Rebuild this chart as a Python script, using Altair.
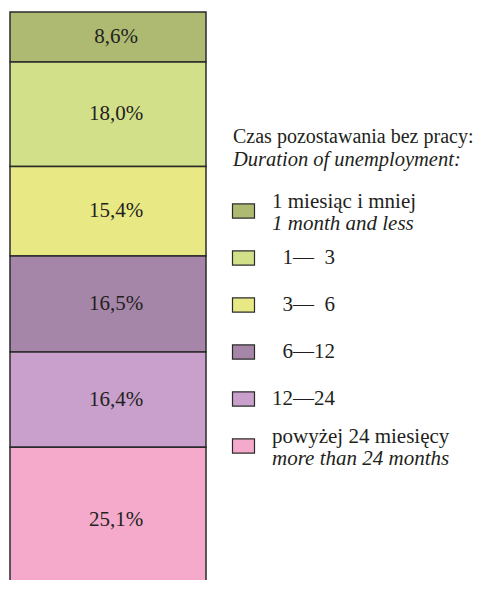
import altair as alt
import pandas as pd

categories = ["1 miesiąc i mniej", "1—3", "3—6", "6—12", "12—24", "powyżej 24 miesięcy"]
values = [8.6, 18.0, 15.4, 16.5, 16.4, 25.1]
value_labels = ["8,6%", "18,0%", "15,4%", "16,5%", "16,4%", "25,1%"]
legend_pl = ["1 miesiąc i mniej", "\u2060\u00a0\u00a01—\u00a0\u00a03", "\u2060\u00a0\u00a03—\u00a0\u00a06",
             "\u2060\u00a0\u00a06—12", "12—24", "powyżej 24 miesięcy"]
legend_en = ["1 month and less", "", "", "", "", "more than 24 months"]
colors = ["#AEBA72", "#D3E08A", "#E8E985", "#A585A8", "#C8A0CB", "#F5AACB"]
title_pl = "Czas pozostawania bez pracy:"
title_en = "Duration of unemployment:"

FONT = "Liberation Serif"
TXT = "#231f20"
STROKE = "#2b2b2b"

df = pd.DataFrame({"cat": categories, "value": values, "label": value_labels,
                   "order": list(range(len(values))), "g": ["a"] * len(values)})
color_scale = alt.Scale(domain=categories, range=colors)
yscale = alt.Scale(domain=[0, 100], range=[4, 585], nice=False, zero=True)
xscale = alt.Scale(range=[2, 198], paddingInner=0, paddingOuter=0)

base = alt.Chart(df)
bars = base.mark_bar(stroke=STROKE, strokeWidth=1.5).encode(
    x=alt.X("g:N", axis=None, scale=xscale),
    y=alt.Y("value:Q", stack="zero", axis=None, scale=yscale),
    color=alt.Color("cat:N", scale=color_scale, legend=None),
    order=alt.Order("order:Q"),
)
labels = base.transform_window(
    cum="sum(value)", sort=[alt.SortField("order")]
).transform_calculate(
    mid="datum.cum - datum.value / 2"
).mark_text(font=FONT, fontSize=21, color=TXT, dx=8, baseline="middle").encode(
    x=alt.X("g:N", axis=None, scale=xscale),
    y=alt.Y("mid:Q", axis=None, scale=yscale),
    text="label:N",
)
bar_layer = alt.layer(bars, labels)

leg = pd.DataFrame({"cat": categories, "pl": legend_pl, "en": legend_en,
                    "two": [1 if e else 0 for e in legend_en]})
lbase = alt.Chart(leg)
ypos = alt.Y("cat:N", sort=categories, axis=None,
             scale=alt.Scale(type="point", range=[203, 438], padding=0))
swatch = lbase.mark_point(
    shape="M-1,-0.64L1,-0.64L1,0.64L-1,0.64Z", size=484, filled=True,
    stroke=STROKE, strokeWidth=1.2, opacity=1,
).encode(x=alt.value(235.5), y=ypos,
         color=alt.Color("cat:N", scale=color_scale, legend=None))
pl_two = lbase.transform_filter("datum.two == 1").mark_text(
    font=FONT, fontSize=21, color=TXT, align="left", baseline="middle", dy=-9
).encode(x=alt.value(264), y=ypos, text="pl:N")
pl_one = lbase.transform_filter("datum.two == 0").mark_text(
    font=FONT, fontSize=21, color=TXT, align="left", baseline="middle"
).encode(x=alt.value(264), y=ypos, text="pl:N")
en_two = lbase.transform_filter("datum.two == 1").mark_text(
    font=FONT, fontSize=21, color=TXT, align="left", baseline="middle", dy=13,
    fontStyle="italic"
).encode(x=alt.value(264), y=ypos, text="en:N")

tdf = pd.DataFrame({"t": [title_pl], "e": [title_en]})
t1 = alt.Chart(tdf).mark_text(font=FONT, fontSize=20, color=TXT, align="left",
                              baseline="middle").encode(
    x=alt.value(225), y=alt.value(129), text="t:N")
t2 = alt.Chart(tdf).mark_text(font=FONT, fontSize=20.5, color=TXT, align="left",
                              baseline="middle", fontStyle="italic").encode(
    x=alt.value(225), y=alt.value(152), text="e:N")

legend_layer = alt.layer(swatch, pl_two, pl_one, en_two, t1, t2)

chart = alt.layer(bar_layer, legend_layer).resolve_scale(
    x="independent", y="independent"
).properties(
    width=475, height=572, padding=0, background="white",
    autosize=alt.AutoSizeParams(type="none"),
).configure_view(strokeWidth=0)

chart.save("out.html", embed_options={"renderer": "svg", "actions": False})
